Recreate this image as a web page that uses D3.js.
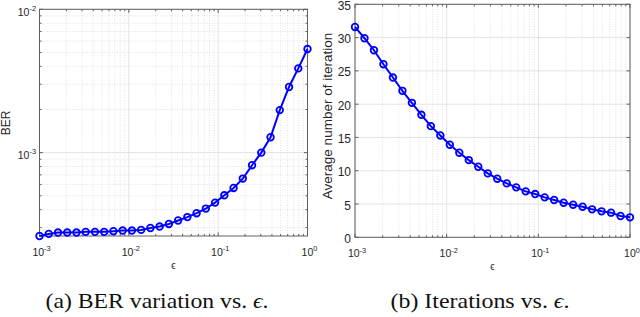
<!DOCTYPE html>
<html><head><meta charset="utf-8">
<script src="https://cdn.jsdelivr.net/npm/d3@7"></script>
<style>body{margin:0;background:#fff}svg{display:block}</style>
</head><body>
<svg id="c" width="640" height="317"></svg>
<script>
// epsilon values (x)
const epsilon = [0.001, 0.001269, 0.001610, 0.002043, 0.002593, 0.003290, 0.004175, 0.005298, 0.006723, 0.008532,
  0.010826, 0.013738, 0.017433, 0.022122, 0.028072, 0.035622, 0.045204, 0.057362, 0.072790, 0.092367,
  0.11721, 0.14873, 0.18874, 0.23950, 0.30392, 0.38566, 0.48939, 0.62102, 0.78805, 1.0];
// BER values (panel a)
const ber = [2.62e-4, 2.71e-4, 2.77e-4, 2.77e-4, 2.77e-4, 2.80e-4, 2.80e-4, 2.80e-4, 2.83e-4, 2.86e-4,
  2.86e-4, 2.89e-4, 2.98e-4, 3.05e-4, 3.18e-4, 3.36e-4, 3.55e-4, 3.78e-4, 4.07e-4, 4.48e-4,
  5.04e-4, 5.67e-4, 6.59e-4, 8.17e-4, 1.0e-3, 1.28e-3, 1.98e-3, 2.87e-3, 3.87e-3, 5.28e-3];
// Average number of iterations (panel b)
const iterations = [31.6, 29.9, 28.1, 26.0, 24.0, 22.0, 20.2, 18.4, 16.7, 15.3,
  13.9, 12.7, 11.6, 10.6, 9.6, 8.8, 8.1, 7.5, 6.9, 6.5,
  6.0, 5.6, 5.2, 4.9, 4.6, 4.2, 3.9, 3.7, 3.2, 3.0];
const xTickExps = [-3, -2, -1, 0];
const berTickExps = [-3, -2];
const iterTicks = [0, 5, 10, 15, 20, 25, 30, 35];
const captions = ["(a) BER variation vs. ", "(b) Iterations vs. "];

const svg = d3.select("#c");
const AX = "#606060", TXT = "#262626", BLUE = "#0000ff";
const SANS = "Liberation Sans, Arial, Helvetica, sans-serif";
const SERIF = "Liberation Serif";

function logMinors(lo, hi) {
  const out = [];
  for (let e = lo; e < hi; e++) for (let m = 2; m <= 9; m++) out.push(m * Math.pow(10, e));
  return out;
}
function powLabel(g, x, y, exp, anchor, size) {
  const t = g.append("text").attr("x", x).attr("y", y).attr("text-anchor", anchor)
    .attr("font-family", SANS).attr("font-size", size).attr("fill", TXT);
  t.append("tspan").text("10");
  t.append("tspan").attr("dy", -size * 0.45).attr("font-size", size * 0.7).text(exp < 0 ? "-" + (-exp) : String(exp));
}

function panel(o) {
  const g = svg.append("g");
  const x = o.x, y = o.y;
  const [x0, x1] = x.range(), [yb, yt] = y.range();
  // minor grid
  const xMin = logMinors(-3, 0);
  g.selectAll(null).data(xMin).join("line")
    .attr("x1", d => x(d)).attr("x2", d => x(d)).attr("y1", yb).attr("y2", yt)
    .attr("stroke", "#cfcfcf").attr("stroke-width", 0.6).attr("stroke-dasharray", "1,1.5");
  if (o.yMinor) g.selectAll(null).data(o.yMinor).join("line")
    .attr("y1", d => y(d)).attr("y2", d => y(d)).attr("x1", x0).attr("x2", x1)
    .attr("stroke", "#cfcfcf").attr("stroke-width", 0.6).attr("stroke-dasharray", "1,1.5");
  // major grid
  const xMaj = xTickExps.map(e => Math.pow(10, e));
  g.selectAll(null).data(xMaj).join("line")
    .attr("x1", d => x(d)).attr("x2", d => x(d)).attr("y1", yb).attr("y2", yt)
    .attr("stroke", "#e3e3e3").attr("stroke-width", 1);
  g.selectAll(null).data(o.yMajor).join("line")
    .attr("y1", d => y(d)).attr("y2", d => y(d)).attr("x1", x0).attr("x2", x1)
    .attr("stroke", "#e3e3e3").attr("stroke-width", 1);
  // ticks (inside, all four sides)
  const tk = (arr, len, horiz) => arr.forEach(d => {
    if (horiz) {
      g.append("line").attr("x1", x(d)).attr("x2", x(d)).attr("y1", yb).attr("y2", yb - len).attr("stroke", AX);
      g.append("line").attr("x1", x(d)).attr("x2", x(d)).attr("y1", yt).attr("y2", yt + len).attr("stroke", AX);
    } else {
      g.append("line").attr("y1", y(d)).attr("y2", y(d)).attr("x1", x0).attr("x2", x0 + len).attr("stroke", AX);
      g.append("line").attr("y1", y(d)).attr("y2", y(d)).attr("x1", x1).attr("x2", x1 - len).attr("stroke", AX);
    }
  });
  tk(xMaj, 3.5, true); tk(xMin, 2, true);
  tk(o.yMajor, 3.5, false); if (o.yMinor) tk(o.yMinor, 2, false);
  // box
  g.append("rect").attr("x", x0).attr("y", yt).attr("width", x1 - x0).attr("height", yb - yt)
    .attr("fill", "none").attr("stroke", AX).attr("stroke-width", 1);
  // x tick labels
  xTickExps.forEach(e => powLabel(g, x(Math.pow(10, e)) + 2, yb + o.xLabDy, e, "middle", 10.5));
  // y tick labels
  o.yLabels(g);
  // x label
  g.append("text").attr("x", (x0 + x1) / 2).attr("y", yb + 33).attr("text-anchor", "middle")
    .attr("font-family", SANS).attr("font-size", 10).attr("fill", TXT).text("ϵ");
  // y label
  g.append("text").attr("transform", `translate(${o.ylabX},${o.ylabY}) rotate(-90)`).attr("text-anchor", "middle")
    .attr("font-family", SANS).attr("font-size", o.ylabSize).attr("fill", TXT).text(o.ylab);
  // line + markers
  const pts = epsilon.map((e, i) => [e, o.vals[i]]);
  g.append("path").datum(pts).attr("fill", "none").attr("stroke", BLUE).attr("stroke-width", 2)
    .attr("d", d3.line().x(d => x(d[0])).y(d => y(d[1])));
  g.selectAll(null).data(pts).join("circle").attr("cx", d => x(d[0])).attr("cy", d => y(d[1]))
    .attr("r", 3.3).attr("fill", "none").attr("stroke", BLUE).attr("stroke-width", 1.8);
  // caption
  const c = svg.append("text").attr("x", o.capX).attr("y", 308).attr("text-anchor", "middle")
    .attr("font-family", SERIF).attr("font-size", 21).attr("fill", "#111")
    .attr("textLength", o.capW).attr("lengthAdjust", "spacingAndGlyphs");
  c.append("tspan").text(o.caption);
  c.append("tspan").attr("font-style", "italic").text("ϵ");
  c.append("tspan").text(".");
}

// Panel (a)
const xa = d3.scaleLog().domain([1e-3, 1]).range([39.5, 307.5]);
const ya = d3.scaleLog().domain([2.62e-4, 1e-2]).range([236, 9.3]);
panel({
  x: xa, y: ya, vals: ber, yMajor: berTickExps.map(e => Math.pow(10, e)),
  yMinor: [3e-4, 4e-4, 5e-4, 6e-4, 7e-4, 8e-4, 9e-4].concat(logMinors(-3, -2)),
  yLabels: g => berTickExps.forEach(e => powLabel(g, 36, ya(Math.pow(10, e)) + 6.5, e, "end", 10.5)),
  xLabDy: 19.5, ylab: "BER", ylabX: 9.5, ylabY: 123, ylabSize: 12,
  caption: captions[0], capX: 157, capW: 223
});
// Panel (b)
const xb = d3.scaleLog().domain([1e-3, 1]).range([355, 630]);
const yb = d3.scaleLinear().domain([0, 35]).range([237.3, 4.3]);
panel({
  x: xb, y: yb, vals: iterations, yMajor: iterTicks, yMinor: null,
  yLabels: g => iterTicks.forEach(v => g.append("text").attr("x", 351).attr("y", yb(v) + 5.5)
    .attr("text-anchor", "end").attr("font-family", SANS).attr("font-size", 12).attr("fill", TXT).text(v)),
  xLabDy: 20, ylab: "Average number of iteration", ylabX: 332, ylabY: 116, ylabSize: 13.5,
  caption: captions[1], capX: 480, capW: 179
});
</script>
</body></html>
